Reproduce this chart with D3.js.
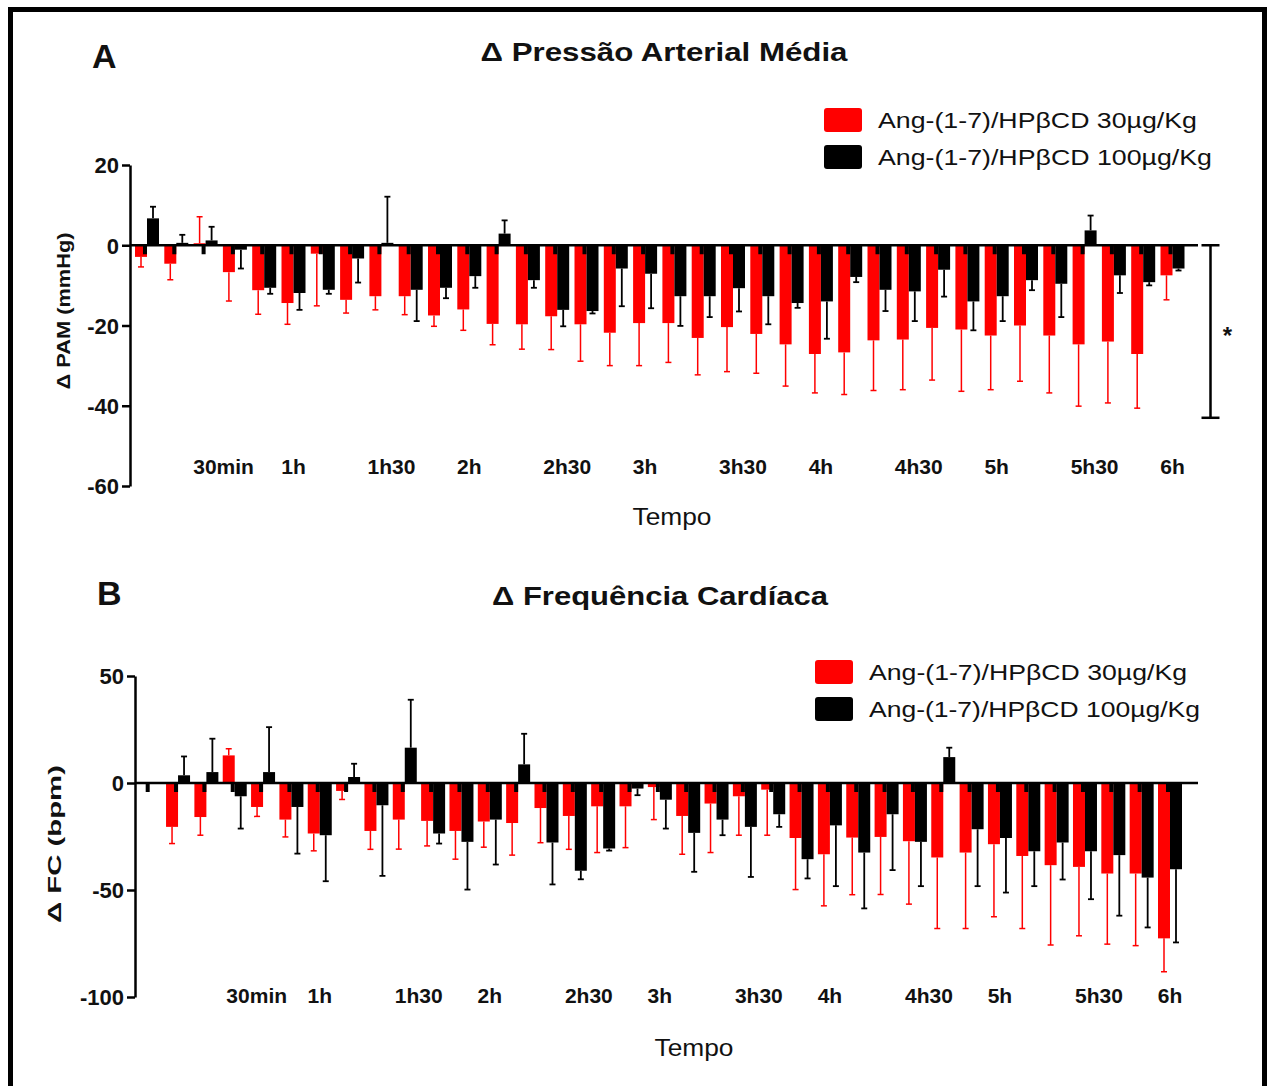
<!DOCTYPE html>
<html>
<head>
<meta charset="utf-8">
<title>Δ PAM e Δ FC - Ang-(1-7)/HPβCD</title>
<script src="https://d3js.org/d3.v7.min.js"></script>
<style>
    body { margin: 0; background: #fff; }
    svg { display: block; }
    svg text { font-family: "Liberation Sans", Arial, Helvetica, sans-serif; }
    .ytick text { font-weight: bold; font-size: 22px; fill: #111; }
    .xlab { font-weight: bold; font-size: 21px; fill: #111; text-anchor: middle; }
</style>
</head>
<body>
<svg id="chart"></svg>
<script>
// ---- data ----
const seriesNames = ["Ang-(1-7)/HPβCD 30µg/Kg", "Ang-(1-7)/HPβCD 100µg/Kg"];
const seriesColors = ["#ff0000", "#000000"];

// panel A: Δ PAM, every 10 min from 10 min to 6 h
const timesA = [10, 20, 30, 40, 50, 60, 70, 80, 90, 100, 110, 120,
    130, 140, 150, 160, 170, 180, 190, 200, 210, 220, 230, 240,
    250, 260, 270, 280, 290, 300, 310, 320, 330, 340, 350, 360];
const pam30 = [-2.9, -4.6, 0.5, -6.7, -11.2, -14.4, -2.1, -13.6, -12.7, -12.7, -17.5, -16.0,
    -19.6, -19.7, -17.7, -19.7, -21.8, -19.4, -19.4, -23.1, -20.4, -22.1, -24.7, -27.1,
    -26.7, -23.7, -23.5, -20.6, -21.0, -22.5, -20.0, -22.5, -24.7, -24.0, -27.1, -7.5];
const pam30Err = [2.5, 4.0, 6.6, 7.2, 6.0, 5.3, 13.0, 3.3, 3.4, 4.6, 2.7, 5.2,
    5.2, 6.2, 8.3, 9.2, 8.2, 10.6, 9.8, 9.2, 11.1, 9.8, 10.4, 9.7,
    10.5, 12.5, 12.5, 13.0, 15.4, 13.5, 13.9, 14.3, 15.4, 15.3, 13.5, 6.1];
const pam100 = [6.7, 0.6, 1.2, -1.1, -10.6, -11.9, -11.1, -3.3, 0.6, -11.1, -10.6, -7.7,
    2.9, -8.7, -16.1, -16.4, -5.8, -7.1, -12.7, -12.7, -10.7, -12.7, -14.4, -14.0,
    -7.9, -11.1, -11.5, -6.1, -14.0, -12.7, -8.7, -9.6, 3.7, -7.5, -9.2, -5.8];
const pam100Err = [2.9, 2.0, 3.4, 4.7, 1.5, 4.2, 1.0, 6.0, 11.5, 7.8, 2.6, 2.9,
    3.3, 1.9, 4.1, 0.6, 9.4, 8.6, 7.4, 5.2, 5.8, 7.0, 1.2, 9.3,
    1.3, 5.3, 7.4, 6.7, 7.2, 6.2, 2.5, 8.3, 3.7, 4.4, 0.8, 0.5];

// panel B: Δ FC, every 10 min from 0 to 6 h
const timesB = [0, 10, 20, 30, 40, 50, 60, 70, 80, 90, 100, 110, 120,
    130, 140, 150, 160, 170, 180, 190, 200, 210, 220, 230, 240,
    250, 260, 270, 280, 290, 300, 310, 320, 330, 340, 350, 360];
const fc30 = [0, -20.5, -15.9, 12.9, -11.2, -17.1, -23.6, -3.7, -22.4, -17.1, -17.7, -22.4, -18.0,
    -18.7, -11.7, -15.4, -10.9, -10.9, -1.9, -15.4, -9.6, -6.2, -3.1, -25.7, -33.3,
    -25.5, -25.2, -27.2, -34.8, -32.5, -28.6, -34.1, -38.4, -39.2, -42.3, -42.3, -72.6];
const fc30Err = [0, 7.8, 8.5, 3.1, 4.4, 8.1, 8.1, 4.0, 8.6, 13.8, 11.7, 13.2, 12.0,
    15.0, 16.2, 15.6, 21.6, 19.3, 15.2, 17.9, 22.9, 18.2, 21.3, 24.1, 24.1,
    26.7, 26.9, 29.4, 33.2, 35.5, 33.9, 33.9, 37.3, 32.2, 33.0, 33.7, 15.6];
const fc100 = [0, 3.6, 5.1, -6.2, 5.1, -11.2, -24.4, 2.8, -10.4, 16.5, -23.6, -27.5, -17.1,
    8.7, -27.8, -41.0, -30.6, -2.6, -7.8, -23.3, -17.1, -20.5, -14.6, -35.6, -19.8,
    -32.5, -14.6, -27.5, 12.1, -21.6, -25.7, -31.9, -27.8, -31.9, -33.7, -44.2, -40.3];
const fc100Err = [0, 8.8, 15.6, 15.1, 21.0, 21.8, 21.5, 6.2, 33.0, 22.4, 4.7, 22.3, 21.0,
    14.3, 19.6, 4.0, 1.0, 3.1, 13.5, 18.2, 7.3, 23.4, 5.9, 9.0, 28.4,
    26.1, 26.1, 20.7, 4.4, 26.6, 25.5, 16.3, 17.3, 22.4, 28.3, 23.3, 34.2];

// x tick labels (minutes)
const tickTimes = [30, 60, 90, 120, 150, 180, 210, 240, 270, 300, 330, 360];
const tickLabels = ["30min", "1h", "1h30", "2h", "2h30", "3h", "3h30", "4h", "4h30", "5h", "5h30", "6h"];

const ticksA = [20, 0, -20, -40, -60];
const ticksB = [50, 0, -50, -100];

// ---- drawing ----
const W = 1271, H = 1086;
const svg = d3.select("#chart").attr("width", W).attr("height", H);
svg.append("rect").attr("width", W).attr("height", H).attr("fill", "#fff");

// outer frame
svg.append("rect")
    .attr("x", 10.5).attr("y", 9.5)
    .attr("width", 1254).attr("height", 1110)
    .attr("fill", "none").attr("stroke", "#000").attr("stroke-width", 5);

function drawPanel(o) {
    const g = svg.append("g");
    const x = d3.scaleLinear().domain([0, 360]).range([o.x0, o.x360]);
    const y = d3.scaleLinear().domain(o.yDomain).range([o.yBottom, o.yTop]);
    const bw = 12;

    // y axis
    const ax = g.append("g")
        .attr("class", "ytick")
        .attr("transform", `translate(${o.axisX},0)`)
        .call(d3.axisLeft(y).tickValues(o.yTicks).tickSize(8).tickSizeOuter(0)
            .tickPadding(3).tickFormat(d => String(d)));
    ax.attr("font-family", null).attr("font-size", null);
    ax.select(".domain").attr("stroke", "#000").attr("stroke-width", 2.5);
    ax.selectAll(".tick line").attr("stroke", "#000").attr("stroke-width", 2.5);
    ax.selectAll(".tick text").attr("dy", "0.36em");

    // bars: series 0 left of the time point, series 1 right of it
    o.series.forEach((s, si) => {
        const rows = o.times.map((t, i) => ({ t, v: s.values[i], e: s.err[i] }));
        g.append("g").selectAll("rect").data(rows).join("rect")
            .attr("x", d => si === 0 ? x(d.t) - bw : x(d.t))
            .attr("width", bw)
            .attr("y", d => y(Math.max(0, d.v)))
            .attr("height", d => Math.abs(y(d.v) - y(0)))
            .attr("fill", seriesColors[si]);
    });

    // little dark notch where the two bars meet, just under zero
    g.append("g").selectAll("rect").data(o.times).join("rect")
        .attr("x", d => x(d) - 4).attr("width", 4)
        .attr("y", y(0)).attr("height", 9)
        .attr("fill", "#000");

    // error bars, drawn away from zero
    o.series.forEach((s, si) => {
        const rows = o.times.map((t, i) => ({ t, v: s.values[i], e: s.err[i] }))
            .filter(d => d.e > 0);
        const cx = d => si === 0 ? x(d.t) - bw / 2 : x(d.t) + bw / 2;
        const end = d => d.v + (d.v >= 0 ? 1 : -1) * d.e;
        const eg = g.append("g").attr("stroke", seriesColors[si])
            .attr("stroke-width", si === 0 ? 1.5 : 1.8);
        eg.selectAll("line.v").data(rows).join("line").attr("class", "v")
            .attr("x1", cx).attr("x2", cx)
            .attr("y1", d => y(d.v)).attr("y2", d => y(end(d)));
        eg.selectAll("line.c").data(rows).join("line").attr("class", "c")
            .attr("x1", d => cx(d) - 3).attr("x2", d => cx(d) + 3)
            .attr("y1", d => y(end(d))).attr("y2", d => y(end(d)));
    });

    // zero line
    g.append("line")
        .attr("x1", o.axisX).attr("x2", o.baseEnd)
        .attr("y1", y(0)).attr("y2", y(0))
        .attr("stroke", "#000").attr("stroke-width", 2.5);

    // x labels (the half-hour labels sit a little right of their point)
    g.append("g").selectAll("text").data(tickTimes).join("text")
        .attr("class", "xlab")
        .attr("x", (d, i) => x(d) + (tickLabels[i] === "30min" ? o.minShift : (d % 60 ? o.halfShift : 0)))
        .attr("y", o.xLabY)
        .text((d, i) => tickLabels[i]);

    g.append("text")
        .attr("x", o.tempoX).attr("y", o.tempoY)
        .attr("text-anchor", "middle")
        .attr("font-size", 24).attr("textLength", 79).attr("lengthAdjust", "spacingAndGlyphs")
        .attr("fill", "#111")
        .text("Tempo");

    // y title
    g.append("text")
        .attr("transform", `translate(${o.yTitleX},${o.yTitleY}) rotate(-90)`)
        .attr("text-anchor", "middle")
        .attr("font-size", 19).attr("font-weight", "bold")
        .attr("textLength", o.yTitleLen).attr("lengthAdjust", "spacingAndGlyphs")
        .attr("fill", "#111")
        .text(o.yTitle);

    // panel letter and title
    g.append("text").attr("x", o.letterX).attr("y", o.letterY)
        .attr("font-size", 34).attr("font-weight", "bold").attr("fill", "#111")
        .text(o.letter);
    g.append("text").attr("x", o.titleX).attr("y", o.titleY)
        .attr("text-anchor", "middle")
        .attr("font-size", 26).attr("font-weight", "bold").attr("fill", "#111")
        .attr("textLength", o.titleLen).attr("lengthAdjust", "spacingAndGlyphs")
        .text(o.title);

    // legend
    const lg = g.append("g").attr("transform", `translate(${o.legX},${o.legY})`);
    seriesNames.forEach((name, i) => {
        lg.append("rect").attr("x", 0).attr("y", i * 37)
            .attr("width", 38).attr("height", 24).attr("rx", 3)
            .attr("fill", seriesColors[i]);
        lg.append("text").attr("x", 54).attr("y", i * 37 + 20)
            .attr("font-size", 22).attr("fill", "#111")
            .attr("textLength", o.legLens[i]).attr("lengthAdjust", "spacingAndGlyphs")
            .text(name);
    });

    return { x, y };
}

const A = drawPanel({
    times: timesA,
    series: [{ values: pam30, err: pam30Err }, { values: pam100, err: pam100Err }],
    x0: 117.7, x360: 1172.5,
    yDomain: [-60, 20], yTicks: ticksA, yBottom: 486, yTop: 165,
    axisX: 130, baseEnd: 1198,
    xLabY: 474, minShift: 18, halfShift: 10,
    tempoX: 672, tempoY: 525,
    yTitle: "Δ PAM (mmHg)", yTitleX: 70, yTitleY: 311, yTitleLen: 157,
    letter: "A", letterX: 92, letterY: 68,
    title: "Δ Pressão Arterial Média", titleX: 664, titleY: 61, titleLen: 367,
    legX: 824, legY: 108, legLens: [319, 334]
});

// significance bracket for panel A
const bx = A.x(360) + 38;
const br = svg.append("g").attr("stroke", "#000").attr("stroke-width", 2.5);
br.append("line").attr("x1", bx).attr("x2", bx).attr("y1", A.y(0)).attr("y2", A.y(-43));
br.append("line").attr("x1", bx - 9).attr("x2", bx + 9).attr("y1", A.y(0)).attr("y2", A.y(0));
br.append("line").attr("x1", bx - 9).attr("x2", bx + 9).attr("y1", A.y(-43)).attr("y2", A.y(-43));
svg.append("text").attr("x", bx + 17).attr("y", A.y(-22) + 10)
    .attr("text-anchor", "middle").attr("font-size", 24).attr("font-weight", "bold")
    .attr("fill", "#111").text("*");

drawPanel({
    times: timesB,
    series: [{ values: fc30, err: fc30Err }, { values: fc100, err: fc100Err }],
    x0: 149.7, x360: 1170,
    yDomain: [-100, 50], yTicks: ticksB, yBottom: 997, yTop: 676,
    axisX: 135, baseEnd: 1198,
    xLabY: 1003, minShift: 22, halfShift: 14,
    tempoX: 694, tempoY: 1056,
    yTitle: "Δ FC (bpm)", yTitleX: 61, yTitleY: 844, yTitleLen: 158,
    letter: "B", letterX: 97, letterY: 605,
    title: "Δ Frequência Cardíaca", titleX: 660, titleY: 605, titleLen: 336,
    legX: 815, legY: 660, legLens: [318, 331]
});
</script>
</body>
</html>
